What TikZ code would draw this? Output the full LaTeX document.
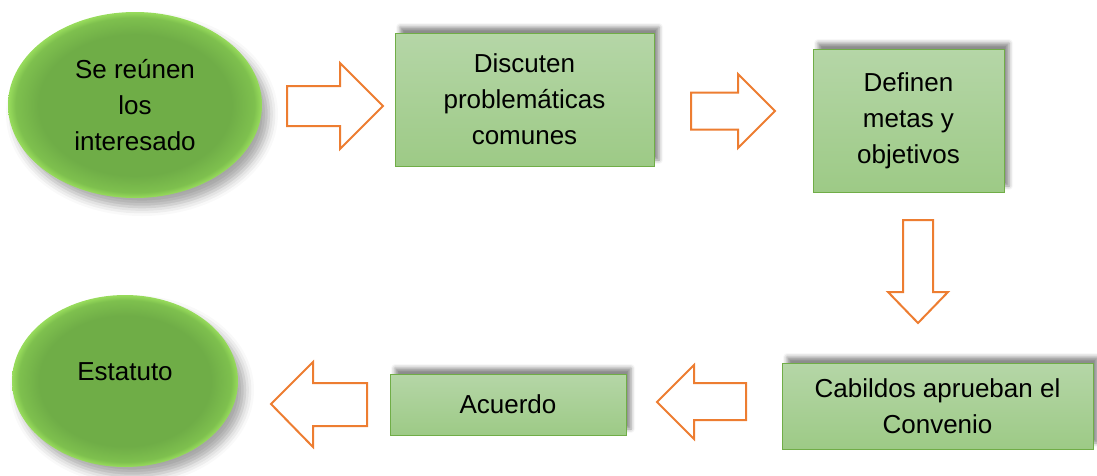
\documentclass[tikz,border=0pt]{standalone}
\usepackage{fontspec}
\setmainfont{Liberation Sans}
\usetikzlibrary{shapes.geometric,shadows.blur}
\definecolor{gin}{HTML}{6FAD47}
\definecolor{gmid}{HTML}{7EC04E}
\definecolor{gout}{HTML}{98DC5C}
\definecolor{boxtop}{HTML}{B5D6A7}
\definecolor{boxbot}{HTML}{9DCA86}
\definecolor{boxline}{HTML}{70AD47}
\definecolor{arr}{HTML}{ED7D31}
\pgfdeclareradialshading{ellgreen}{\pgfpoint{0bp}{0bp}}{color(0bp)=(gin); color(19bp)=(gin); color(23.5bp)=(gmid); color(25bp)=(gout); color(50bp)=(gout)}
\begin{document}
\begin{tikzpicture}[x=1pt,y=-1pt,
  every node/.style={font=\fontsize{26}{36}\selectfont, align=center, inner sep=0pt},
  oval/.style={ellipse, shading=ellgreen, blur shadow={shadow xshift=7pt, shadow yshift=-9pt, shadow blur radius=9pt, shadow opacity=35}},
  card/.style={rectangle, top color=boxtop, bottom color=boxbot, draw=boxline, line width=1pt, blur shadow={shadow xshift=5pt, shadow yshift=6pt, shadow blur radius=4pt, shadow opacity=45}},
  barrow/.style={draw=arr, fill=white, line width=2pt, line join=miter}]
\useasboundingbox (0,0) rectangle (1097,475);

\node[oval, minimum width=254pt, minimum height=186pt] (reunen) at (135,105) {Se reúnen\\los\\interesado};
\node[card, minimum width=259pt, minimum height=133pt] (discuten) at (524.5,99.5) {Discuten\\problemáticas\\comunes};
\node[card, minimum width=191pt, minimum height=143pt] (definen) at (908.5,120.5) {Definen\\metas y\\objetivos};
\node[card, minimum width=311pt, minimum height=86pt] (cabildos) at (937.5,406) {Cabildos aprueban el\\Convenio};
\node[card, minimum width=236pt, minimum height=61pt] (acuerdo) at (508,404.5) {Acuerdo};
\node[oval, minimum width=226pt, minimum height=172pt, label={[yshift=9pt]center:Estatuto}] (estatuto) at (125,381) {};

% block arrows
\draw[barrow] (287,86) -- (340,86) -- (340,63) -- (383,106) -- (340,149) -- (340,126) -- (287,126) -- cycle;
\draw[barrow] (691,92.5) -- (738,92.5) -- (738,74) -- (775,111) -- (738,148) -- (738,129.5) -- (691,129.5) -- cycle;
\draw[barrow] (903,220) -- (933,220) -- (933,292) -- (948,292) -- (918,323) -- (888,292) -- (903,292) -- cycle;
\draw[barrow] (367,383) -- (313,383) -- (313,362) -- (271,404) -- (313,447) -- (313,426) -- (367,426) -- cycle;
\draw[barrow] (746,383) -- (694,383) -- (694,365) -- (657,402) -- (694,439) -- (694,420) -- (746,420) -- cycle;
\end{tikzpicture}
\end{document}
